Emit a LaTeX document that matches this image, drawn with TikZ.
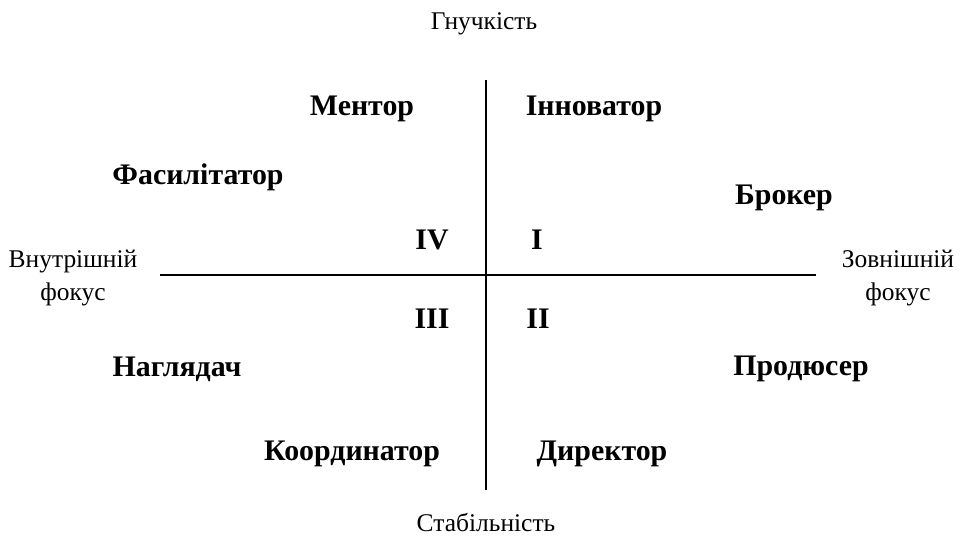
\documentclass[tikz,border=0pt]{standalone}
\usepackage{fontspec}
\setmainfont{Liberation Serif}
\usetikzlibrary{positioning}
\tikzset{
  role/.style={font=\fontsize{17}{20}\selectfont\bfseries},
  quad/.style={font=\fontsize{17}{20}\selectfont\bfseries},
  axislabel/.style={font=\fontsize{14.5}{18.5}\selectfont},
}
\begin{document}
\begin{tikzpicture}[x=0.02cm, y=-0.02cm]
        % canvas 960 x 538 px, y grows downwards
        \useasboundingbox (0,0) rectangle (960,538);

        % ── Axes ─────────────────────────────────────────────────────────
        \coordinate (top) at (486,80);
        \coordinate (bottom) at (486,490);
        \coordinate (left) at (160,275);
        \coordinate (right) at (816,275);
        \draw[line width=0.6pt] (top) -- (bottom);
        \draw[line width=0.6pt] (left) -- (right);

        % ── Axis labels ──────────────────────────────────────────────────
        \node[axislabel] (flex) at (484,24) {Гнучкість};
        \node[axislabel] (stab) at (486,522) {Стабільність};
        \node[axislabel, align=center] (inner) at (73,278)
              {Внутрішній\\фокус};
        \node[axislabel, align=center] (outer) at (898,278)
              {Зовнішній\\фокус};

        % ── Quadrant numbers ─────────────────────────────────────────────
        \node[quad] (q4) at (432,240) {IV};
        \node[quad] (q1) at (537,240) {I};
        \node[quad] (q3) at (432,319) {III};
        \node[quad] (q2) at (538,319) {II};

        % ── Roles ────────────────────────────────────────────────────────
        \node[role] (mentor) at (362,109) {Ментор};
        \node[role] (innov) at (594,109) {Інноватор};
        \node[role] (facil) at (198,177) {Фасилітатор};
        \node[role] (broker) at (784,198) {Брокер};
        \node[role] (monitor) at (177,369) {Наглядач};
        \node[role] (producer) at (801,369) {Продюсер};
        \node[role] (coord) at (352,454) {Координатор};
        \node[role] (director) at (602,454) {Директор};
      \end{tikzpicture}
\end{document}
